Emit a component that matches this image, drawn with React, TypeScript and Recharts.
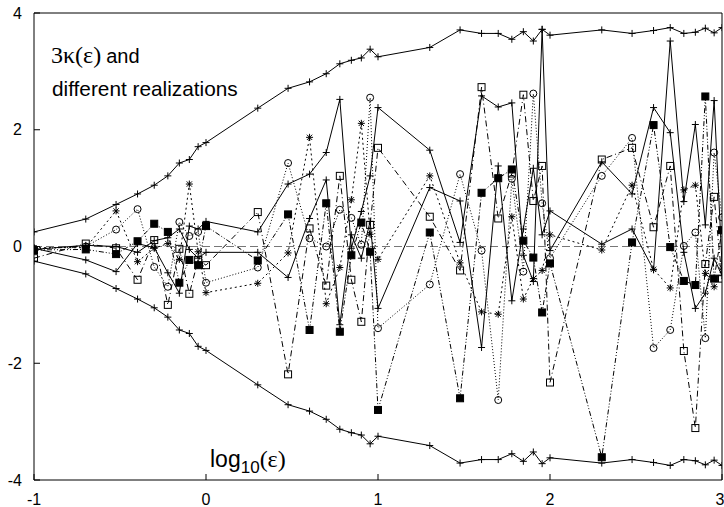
import { ComposedChart, Line, ReferenceLine, XAxis, YAxis } from "recharts";

// epsilon values (plotted as log10)
const eps = [
  0.1, 0.2, 0.3, 0.4, 0.5, 0.6, 0.7, 0.8, 0.9, 1,
  2, 3, 4, 5, 6, 7, 8, 9, 10,
  20, 30, 40, 50, 60, 70, 80, 90, 100,
  200, 300, 400, 500, 600, 700, 800, 900, 1000,
];

const kappaUpper = [
  0.25, 0.47, 0.72, 0.9, 1.05, 1.21, 1.43, 1.49, 1.71, 1.78,
  2.37, 2.71, 2.82, 2.96, 3.13, 3.19, 3.23, 3.38, 3.25,
  3.41, 3.71, 3.65, 3.65, 3.55, 3.68, 3.52, 3.72, 3.62,
  3.71, 3.65, 3.7, 3.75, 3.65, 3.67, 3.74, 3.66, 3.75,
];
const kappaLower = [
  -0.25, -0.47, -0.72, -0.9, -1.05, -1.21, -1.43, -1.49, -1.71, -1.78,
  -2.37, -2.71, -2.82, -2.96, -3.13, -3.19, -3.23, -3.38, -3.25,
  -3.41, -3.71, -3.65, -3.65, -3.55, -3.68, -3.52, -3.72, -3.62,
  -3.71, -3.65, -3.7, -3.75, -3.65, -3.67, -3.74, -3.66, -3.75,
];

const realPlusA = [
  -0.03, -0.23, -0.43, 0.05, -0.02, -0.45, -0.8, 0.35, 0.3, 0.43,
  0.25, 1.07, 1.24, 1.61, 2.52, -0.03, 0.6, 1.21, 2.38,
  1.65, 0.07, 2.58, 2.39, 2.46, -0.15, -0.6, 3.72, -0.07,
  1.45, 0.9, 2.38, 1.95, -0.1, -1.06, -0.8, -0.2, -0.5,
];
const realPlusB = [
  -0.05, 0.02, 0.0, -0.1, 0.1, 0.15, 0.3, -0.05, -0.2, -0.1,
  -0.1, -0.53, 0.48, 1.14, -1.34, 0.2, -0.2, 0.43, -1.06,
  1.01, 0.78, -1.73, 1.38, -0.93, 0.3, 1.34, 0.2, 0.61,
  0.04, 0.3, -0.4, 3.52, 0.77, 2.09, 0.37, 2.5, -0.3,
];
const realStar = [
  -0.02, -0.02, 0.61, -0.26, -0.03, 0.05, -0.22, 1.07, -0.09, -0.79,
  -0.63, -0.11, 1.87, -0.98, -0.36, 0.8, 2.11, 0.21, -0.22,
  1.21, -0.28, -1.12, -1.16, 0.51, -0.9, -0.55, -0.41, 0.2,
  -0.06, 1.05, -0.39, -0.71, 0.97, 1.05, -0.46, -0.69, -0.37,
];
const realBox = [
  -0.2, 0.05, -0.03, -0.57, 0.11, -1.0, -0.04, -0.81, -0.23, -0.32,
  0.59, -2.19, 0.31, -0.67, 1.21, -0.57, -1.29, 0.37, 1.69,
  0.51, -0.41, 2.73, 0.48, 1.25, 2.6, 0.78, 1.38, -2.33,
  1.49, 1.69, 0.33, 1.38, -1.79, -3.11, -0.3, 0.85, -0.55,
];
const realFilledBox = [
  -0.06, -0.05, -0.13, 0.09, 0.39, 0.25, -0.62, -0.23, -0.32, 0.35,
  -0.24, 0.55, -1.43, 0.74, -1.46, -0.15, 0.41, -0.09, -2.8,
  0.24, -2.6, 0.92, 1.17, 1.32, 0.1, -0.19, -1.13, -0.29,
  -3.61, 0.07, 2.08, -0.01, -0.59, -0.66, 2.57, -0.55, 0.28,
];
const realCircle = [
  -0.04, 0.0, 0.29, 0.64, -0.35, -0.69, 0.42, 0.18, 0.25, -0.62,
  -0.36, 1.43, 0.14, 0.0, 0.63, 0.49, 0.03, 2.55, -1.4,
  -0.65, 1.24, -0.07, -2.63, 1.16, -0.43, 2.62, 0.74, -0.2,
  1.21, 1.86, -1.74, -1.43, 0.01, 0.24, -1.57, 1.61, 0.5,
];

const xTicks = [-1, 0, 1, 2, 3];
const yTicks = [-4, -2, 0, 2, 4];

const toPoints = (vals: number[]) => eps.map((e, i) => ({ x: Math.log10(e), y: vals[i] }));

type Kind = "plus" | "star" | "box" | "fbox" | "circle";
const S = 3.5;

function Mark({ kind, cx, cy }: { kind: Kind; cx?: number; cy?: number }) {
  if (cx == null || cy == null) return null;
  if (kind === "plus")
    return <path d={`M${cx - S},${cy}H${cx + S}M${cx},${cy - S}V${cy + S}`} stroke="#000" fill="none" />;
  if (kind === "star") {
    const d = S * 0.75;
    return (
      <path
        d={`M${cx - S},${cy}H${cx + S}M${cx},${cy - S}V${cy + S}M${cx - d},${cy - d}L${cx + d},${cy + d}M${cx - d},${cy + d}L${cx + d},${cy - d}`}
        stroke="#000"
        fill="none"
      />
    );
  }
  if (kind === "box")
    return <rect x={cx - S} y={cy - S} width={S * 2} height={S * 2} stroke="#000" fill="none" />;
  if (kind === "fbox")
    return <rect x={cx - S} y={cy - S} width={S * 2} height={S * 2} stroke="#000" fill="#000" />;
  return <circle cx={cx} cy={cy} r={S} stroke="#000" fill="none" />;
}

const series: { name: string; vals: number[]; kind: Kind; dash?: string }[] = [
  { name: "upper", vals: kappaUpper, kind: "plus" },
  { name: "lower", vals: kappaLower, kind: "plus" },
  { name: "plusA", vals: realPlusA, kind: "plus" },
  { name: "plusB", vals: realPlusB, kind: "plus" },
  { name: "star", vals: realStar, kind: "star", dash: "2 3" },
  { name: "box", vals: realBox, kind: "box", dash: "6 3 1 3" },
  { name: "fbox", vals: realFilledBox, kind: "fbox", dash: "5 2 1 2 1 2" },
  { name: "circle", vals: realCircle, kind: "circle", dash: "1 2" },
];

const font = "'Liberation Sans', Arial, sans-serif";
const serif = "'Liberation Serif', 'Times New Roman', serif";

export default function App() {
  return (
    <div style={{ position: "absolute", left: 0, top: 0, width: 724, height: 507, background: "#fff" }}>
      <ComposedChart width={724} height={507} margin={{ top: 12, right: 1, bottom: 0, left: 0 }}>
        <XAxis
          dataKey="x"
          type="number"
          domain={[-1, 3]}
          ticks={xTicks}
          allowDataOverflow
          height={27}
          tickSize={-6}
          tickMargin={20}
          stroke="#000"
          tick={{ fill: "#000", fontSize: 16, fontFamily: font }}
        />
        <XAxis
          xAxisId="top"
          orientation="top"
          type="number"
          domain={[-1, 3]}
          ticks={xTicks}
          height={1}
          tickSize={-6}
          stroke="#000"
          tickFormatter={() => ""}
        />
        <YAxis
          type="number"
          domain={[-4, 4]}
          ticks={yTicks}
          allowDataOverflow
          width={34}
          tickSize={-6}
          tickMargin={18}
          stroke="#000"
          tick={{ fill: "#000", fontSize: 16, fontFamily: font }}
        />
        <YAxis
          yAxisId="right"
          orientation="right"
          type="number"
          domain={[-4, 4]}
          ticks={yTicks}
          width={1}
          tickSize={-6}
          stroke="#000"
          tickFormatter={() => ""}
        />
        <ReferenceLine y={0} stroke="#777" strokeWidth={1.2} strokeDasharray="8 4" />
        {series.map((s) => (
          <Line
            key={s.name}
            data={toPoints(s.vals)}
            dataKey="y"
            type="linear"
            stroke="#000"
            strokeWidth={1}
            strokeDasharray={s.dash}
            isAnimationActive={false}
            dot={(p: any) => <Mark key={p.index} kind={s.kind} cx={p.cx} cy={p.cy} />}
            activeDot={false}
          />
        ))}
      </ComposedChart>
      <svg width={724} height={507} style={{ position: "absolute", left: 0, top: 0, pointerEvents: "none" }}>
        <text x={51} y={63} fontFamily={serif} fontSize={24} fill="#000">
          3κ(ε)
          <tspan fontFamily={font} fontSize={20} dx={5}>and</tspan>
        </text>
        <text x={52} y={96} fontFamily={font} fontSize={20.8} fill="#000">
          different realizations
        </text>
        <text x={210} y={467} fontFamily={font} fontSize={23} fill="#000">
          log
          <tspan fontSize={17} dy={6}>10</tspan>
          <tspan fontFamily={serif} fontSize={24} dy={-6}>(ε)</tspan>
        </text>
      </svg>
    </div>
  );
}
